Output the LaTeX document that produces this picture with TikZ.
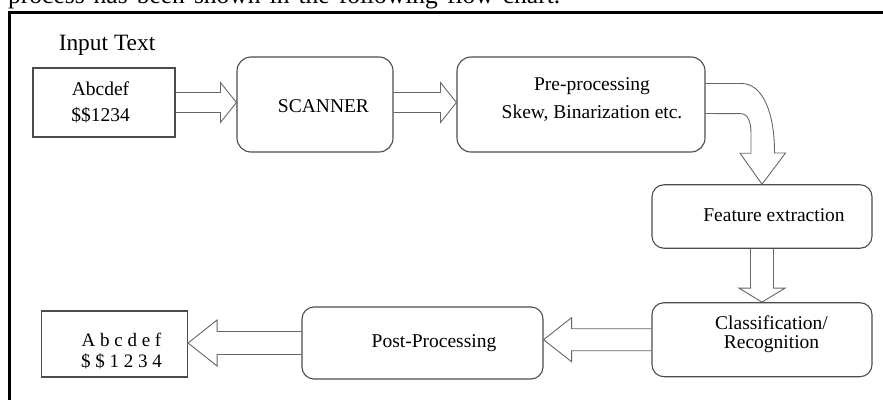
\documentclass[tikz,border=0pt]{standalone}
\usepackage{fontspec}
\setmainfont{Liberation Serif}
\usetikzlibrary{calc,positioning}

% hollow block arrow: from, to, body half width, head half width, head length
\newcommand{\blockarrow}[5]{%
  \coordinate (hb) at ($(#2)!#5!(#1)$);
  \draw[barrow] ($(#1)!#3!90:(#2)$) -- ($(hb)!#3!90:(#2)$) -- ($(hb)!#4!90:(#2)$) -- (#2)
    -- ($(hb)!#4!-90:(#2)$) -- ($(hb)!#3!-90:(#2)$) -- ($(#1)!#3!-90:(#2)$);}

\begin{document}
\begin{tikzpicture}[x=1pt,y=-1pt,
    box/.style={draw=black!70, line width=1.1pt, inner sep=0pt},
    rbox/.style={box, rounded corners=14pt},
    txt/.style={font=\fontsize{19.5}{26}\selectfont, align=center, inner sep=0pt},
    barrow/.style={draw=black!60, line width=0.9pt, line join=miter}]
    \useasboundingbox (0,0) rectangle (883,399);
    \clip (0,0) rectangle (883,399);

    % Frame
    \node[anchor=base west, inner sep=0pt, font=\fontsize{25.5}{30}\selectfont] (intro) at (8,3.5)
        {\makebox[552pt][s]{process has been shown in the following flow chart.}};
    \draw[line width=3pt] (9,405) -- (9,12.5) -- (890,12.5);

    % Input
    \node[anchor=base, inner sep=0pt, font=\fontsize{23.4}{28}\selectfont] (intitle) at (107,50) {Input Text};
    \node[box, minimum width=142, minimum height=69] (input) at (104,102.5) {};
    \node[txt] (intxt) at (100.5,102) {Abcdef\\\$\$1234};

    % Stages
    \node[rbox, minimum width=156, minimum height=95] (scan) at (315,104.5) {};
    \node[rbox, minimum width=248, minimum height=95] (pre) at (581,104.5) {};
    \node[rbox, rounded corners=12pt, minimum width=220, minimum height=63.5] (feat) at (762,216.5) {};
    \node[rbox, rounded corners=12pt, minimum width=220, minimum height=74] (class) at (762,339.7) {};
    \node[rbox, rounded corners=12pt, minimum width=241, minimum height=72] (post) at (422.5,343) {};
    \node[box, minimum width=146, minimum height=66] (out) at (114.5,344) {};

    \node[txt] (scantxt) at ([xshift=8.5pt,yshift=-1.7pt]scan.center) {SCANNER};
    \node[txt, font=\fontsize{19.5}{28}\selectfont] (pretxt) at ([xshift=11pt,yshift=4.8pt]pre.center)
        {Pre-processing\\Skew, Binarization etc.};
    \node[txt] (feattxt) at ([xshift=12pt,yshift=1pt]feat.center) {Feature extraction};
    \node[txt, font=\fontsize{19.5}{19}\selectfont] (classtxt) at ([xshift=9.5pt,yshift=5.7pt]class.center)
        {Classification/\\Recognition};
    \node[txt] (posttxt) at ([xshift=11.5pt]post.center) {Post-Processing};
    \node[txt, font=\fontsize{19}{21}\selectfont] (outtxt) at ([xshift=7pt,yshift=-7.5pt]out.center)
        {A b c d e f\\\$ \$ 1 2 3 4};

    % Arrows
    \blockarrow{input.east}{input.east -| scan.west}{10pt}{20pt}{16pt}
    \blockarrow{input.east -| scan.east}{input.east -| pre.west}{10pt}{20pt}{16pt}
    \draw[barrow] ($(pre.east)+(0,-21)$) -- ++(36,0) .. controls +(20,0) and +(0,-43) .. ++(33,69.5)
        -- ++(11,0) -- (feat.north) -- ++(-22,-31) -- ++(11,0) -- ++(0,-20)
        .. controls +(0,-11) and +(7,0) .. ++(-10,-19.5) -- ($(pre.east)+(0,9)$);
    \blockarrow{feat.south}{feat.south |- class.north}{11.5pt}{23pt}{14pt}
    \blockarrow{class.west}{class.west -| post.east}{11pt}{22pt}{28pt}
    \blockarrow{post.west}{post.west -| out.east}{11.5pt}{23pt}{29pt}
\end{tikzpicture}
\end{document}
